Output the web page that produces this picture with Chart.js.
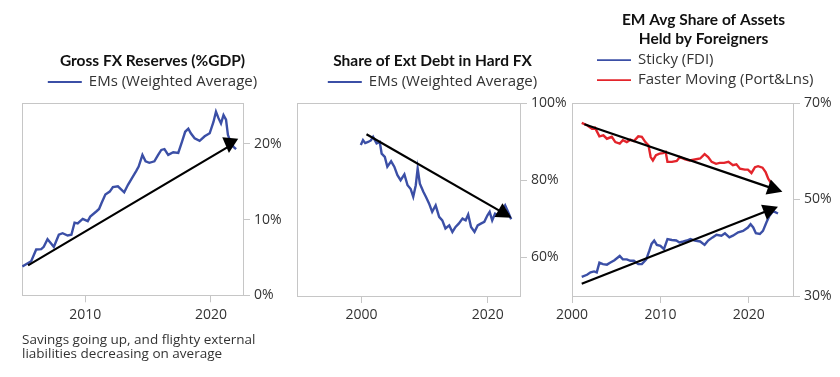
<!DOCTYPE html>
<html><head><meta charset="utf-8">
<script src="https://cdn.jsdelivr.net/npm/chart.js@4.4.1/dist/chart.umd.min.js"></script>
<style>
html,body{margin:0;padding:0;background:#fff;}
#wrap{position:relative;width:840px;height:377px;overflow:hidden;background:#fff;}
canvas{position:absolute;top:0;}
</style></head><body>
<div id="wrap">
<canvas id="c1" width="306" height="377" style="left:0px;width:306px;height:377px"></canvas>
<canvas id="c2" width="300" height="377" style="left:280px;width:300px;height:377px"></canvas>
<canvas id="c3" width="300" height="377" style="left:540px;width:300px;height:377px"></canvas>
</div>
<script>
// ---------- Panel 1: Gross FX Reserves (%GDP) ----------
const fxYears = [2005.0, 2005.7, 2006.1, 2006.5, 2006.7, 2007.0, 2007.3, 2007.5, 2007.9, 2008.2, 2008.6, 2008.9, 2009.15, 2009.4, 2009.8, 2010.2, 2010.4, 2010.9, 2011.1, 2011.3, 2011.6, 2011.95, 2012.2, 2012.6, 2013.1, 2013.4, 2013.8, 2014.05, 2014.25, 2014.55, 2014.8, 2015.1, 2015.5, 2015.8, 2016.05, 2016.3, 2016.6, 2017.0, 2017.4, 2017.7, 2017.95, 2018.2, 2018.4, 2018.7, 2019.1, 2019.5, 2019.9, 2020.2, 2020.4, 2020.6, 2020.8, 2021.0, 2021.2, 2021.35, 2021.55, 2021.8, 2022.0];
const fxValues = [3.8, 4.5, 6.05, 6.1, 6.4, 7.4, 6.8, 6.4, 8.0, 8.2, 7.9, 8.0, 9.6, 9.5, 10.1, 9.8, 10.4, 11.1, 11.4, 12.2, 13.3, 13.7, 14.3, 14.4, 13.6, 14.6, 15.7, 16.4, 17.0, 18.55, 17.7, 17.5, 17.7, 18.55, 19.2, 19.3, 18.55, 18.9, 18.8, 20.3, 21.6, 22.0, 21.4, 20.75, 20.4, 21.0, 21.4, 22.9, 24.25, 23.4, 22.7, 23.8, 23.2, 21.2, 20.3, 19.6, 19.3];
const fxXTicks = [2010, 2020];
const fxYTicks = [0, 10, 20];
const fxArrow = [2005.45, 3.95, 2021.36, 19.6, 2021.43, 18.8]; // from x,y / line end x,y / head tip x,y

// ---------- Panel 2: Share of Ext Debt in Hard FX ----------
const debtYears = [1999.9, 2000.25, 2000.6, 2001.05, 2001.5, 2001.85, 2002.4, 2002.9, 2003.2, 2003.7, 2004.1, 2004.7, 2005.2, 2005.7, 2006.2, 2006.8, 2007.3, 2007.8, 2008.2, 2008.6, 2008.9, 2009.25, 2009.8, 2010.2, 2010.7, 2011.2, 2011.75, 2012.3, 2012.8, 2013.3, 2013.9, 2014.4, 2014.9, 2015.4, 2016.0, 2016.5, 2016.9, 2017.35, 2017.9, 2018.4, 2018.9, 2019.45, 2019.95, 2020.3, 2020.7, 2021.15, 2021.7, 2022.2, 2022.75, 2023.2, 2023.7];
const debtValues = [89.1, 90.4, 89.6, 89.9, 90.3, 91.2, 89.5, 89.9, 86.9, 86.05, 83.5, 84.9, 83.5, 81.3, 80.0, 81.5, 78.7, 77.7, 75.7, 78.7, 83.0, 79.1, 77.0, 75.7, 74.0, 71.8, 73.5, 70.5, 69.6, 67.5, 68.3, 66.6, 67.9, 68.75, 70.05, 69.6, 71.1, 67.9, 66.6, 68.3, 68.75, 69.2, 70.9, 71.8, 69.6, 71.35, 70.9, 71.95, 73.5, 71.8, 69.9];
const debtXTicks = [2000, 2020];
const debtYTicks = [60, 80, 100];
const debtArrow = [2000.8, 91.9, 2023.75, 70.3]; // from x,y / head tip x,y

// ---------- Panel 3: EM Avg Share of Assets Held by Foreigners ----------
const stickyYears = [2001.1, 2001.7, 2002.1, 2002.5, 2002.8, 2003.1, 2003.5, 2003.95, 2004.3, 2004.8, 2005.4, 2005.75, 2006.2, 2006.6, 2007.0, 2007.5, 2007.9, 2008.4, 2008.75, 2009.0, 2009.3, 2009.6, 2010.0, 2010.4, 2010.8, 2011.3, 2011.8, 2012.15, 2012.6, 2013.0, 2013.4, 2013.9, 2014.5, 2015.0, 2015.4, 2015.9, 2016.35, 2016.9, 2017.3, 2017.8, 2018.2, 2018.8, 2019.35, 2019.9, 2020.2, 2020.5, 2020.8, 2021.25, 2021.6, 2022.0, 2022.3, 2022.75, 2023.3];
const stickyValues = [33.96, 34.4, 34.9, 35.1, 34.9, 36.9, 36.6, 36.5, 36.9, 37.4, 38.3, 37.6, 37.6, 37.3, 37.3, 36.6, 36.6, 37.6, 39.4, 40.8, 41.5, 40.6, 40.4, 39.7, 41.8, 41.6, 41.5, 41.1, 41.3, 41.5, 41.8, 41.5, 41.3, 40.6, 41.5, 42.15, 42.7, 42.5, 43.0, 42.15, 42.5, 43.2, 43.5, 44.2, 44.9, 44.2, 43.0, 42.85, 43.5, 45.3, 46.5, 47.6, 47.1];
const fastYears = [2001.1, 2001.7, 2002.25, 2002.6, 2003.1, 2003.55, 2003.95, 2004.5, 2004.9, 2005.4, 2005.75, 2006.2, 2006.6, 2007.0, 2007.5, 2007.9, 2008.3, 2008.65, 2008.9, 2009.15, 2009.5, 2009.9, 2010.3, 2010.6, 2010.8, 2011.3, 2011.85, 2012.2, 2012.8, 2013.3, 2013.9, 2014.5, 2015.0, 2015.4, 2015.8, 2016.3, 2016.7, 2017.2, 2017.7, 2018.2, 2018.6, 2019.0, 2019.55, 2019.9, 2020.3, 2020.7, 2021.05, 2021.55, 2021.9, 2022.2, 2022.55];
const fastValues = [65.9, 65.4, 64.7, 64.9, 63.1, 63.3, 62.6, 63.0, 61.9, 61.6, 62.3, 61.9, 62.4, 62.1, 63.1, 63.0, 61.9, 61.25, 58.8, 58.1, 59.2, 59.5, 59.6, 59.85, 57.8, 57.8, 58.0, 58.8, 58.3, 58.1, 58.3, 58.5, 59.4, 58.8, 57.8, 57.4, 57.6, 57.6, 57.8, 57.1, 57.3, 56.4, 56.2, 56.2, 55.5, 56.7, 56.9, 56.6, 55.7, 54.3, 53.3];
const assetXTicks = [2000, 2010, 2020];
const assetYTicks = [30, 50, 70];
const fastArrow = [2001.4, 65.6, 2023.8, 51.6];
const stickyArrow = [2001.1, 32.55, 2023.3, 48.5];

const caption = ['Savings going up, and flighty external', 'liabilities decreasing on average'];

// ---------- styling ----------
const FONT = "'Open Sans', Lato, 'DejaVu Sans', sans-serif";
const TITLE_FONT = "Lato, 'Open Sans', sans-serif";
const BLUE = '#3b4fa6';
const RED = '#e3242b';
const GRAY = '#c6c6c6';
const TEXT = '#333333';

function pts(xs, ys) { return xs.map((x, i) => ({ x: x, y: ys[i] })); }

const framePlugin = {
  id: 'frame',
  beforeDatasetsDraw(chart) {
    const a = chart.chartArea, ctx = chart.ctx;
    ctx.save();
    ctx.strokeStyle = GRAY; ctx.lineWidth = 1;
    ctx.strokeRect(Math.round(a.left) + 0.5, Math.round(a.top) + 0.5, Math.round(a.right - a.left), Math.round(a.bottom - a.top));
    ctx.restore();
  }
};

const arrowPlugin = {
  id: 'arrows',
  afterDatasetsDraw(chart, args, opts) {
    const xs = chart.scales.x, ys = chart.scales.y, ctx = chart.ctx;
    ctx.save();
    (opts.items || []).forEach(it => {
      const a = it.data;
      const x0 = xs.getPixelForValue(a[0]), y0 = ys.getPixelForValue(a[1]);
      let ex, ey, tx, ty;
      if (a.length === 6) {
        ex = xs.getPixelForValue(a[2]); ey = ys.getPixelForValue(a[3]);
        tx = xs.getPixelForValue(a[4]); ty = ys.getPixelForValue(a[5]);
      } else {
        tx = xs.getPixelForValue(a[2]); ty = ys.getPixelForValue(a[3]);
      }
      const ang = it.angle != null ? it.angle * Math.PI / 180 : Math.atan2(ty - y0, tx - x0);
      const L = opts.headLength, W = opts.headWidth / 2;
      const cx = Math.cos(ang), sy = Math.sin(ang);
      if (ex == null) { ex = tx - L * 0.7 * cx; ey = ty - L * 0.7 * sy; }
      ctx.strokeStyle = '#000'; ctx.lineWidth = 2.2; ctx.lineCap = 'butt';
      ctx.beginPath(); ctx.moveTo(x0, y0); ctx.lineTo(ex, ey); ctx.stroke();
      const bx = tx - L * cx, by = ty - L * sy;
      ctx.fillStyle = '#000';
      ctx.beginPath();
      ctx.moveTo(tx, ty);
      ctx.lineTo(bx - W * sy, by + W * cx);
      ctx.lineTo(bx + W * sy, by - W * cx);
      ctx.closePath(); ctx.fill();
    });
    ctx.restore();
  }
};

const legendPlugin = {
  id: 'lineLegend',
  afterDraw(chart, args, opts) {
    const ctx = chart.ctx, area = chart.chartArea;
    ctx.save();
    ctx.font = '15px ' + FONT;
    ctx.textBaseline = 'middle';
    chart.data.datasets.forEach((ds, i) => {
      const y = area.top + opts.rows[i];
      const tw = ctx.measureText(ds.label).width;
      let x;
      if (opts.align === 'center') {
        const tb = chart.titleBlock;
        const c = (tb.left + tb.right) / 2;
        x = c - (opts.lineLen + opts.gap + tw) / 2;
      } else {
        x = area.left + opts.offsetX;
      }
      ctx.strokeStyle = ds.borderColor; ctx.lineWidth = 1.8;
      ctx.beginPath(); ctx.moveTo(x, y); ctx.lineTo(x + opts.lineLen, y); ctx.stroke();
      ctx.fillStyle = TEXT; ctx.textAlign = 'left';
      ctx.fillText(ds.label, x + opts.lineLen + opts.gap, y);
    });
    ctx.restore();
  }
};

function makeChart(id, cfg) {
  const options = {
    responsive: false, animation: false, devicePixelRatio: 1,
    layout: { padding: cfg.padding },
    scales: {
      x: {
        type: 'linear', min: cfg.xMin, max: cfg.xMax,
        afterBuildTicks: s => { s.ticks = cfg.xTicks.map(v => ({ value: v })); },
        afterFit: s => { s.height = 30; },
        ticks: { callback: v => String(v), color: TEXT, font: { family: FONT, size: 14 }, padding: 4, maxRotation: 0, autoSkip: false },
        grid: { drawOnChartArea: false, drawTicks: true, tickLength: 7, color: GRAY },
        border: { display: true, color: GRAY }
      },
      y: {
        type: 'linear', position: 'right', min: cfg.yMin, max: cfg.yMax,
        afterBuildTicks: s => { s.ticks = cfg.yTicks.map(v => ({ value: v })); },
        afterFit: s => { s.width = cfg.yWidth; },
        ticks: { callback: v => v + '%', color: TEXT, font: { family: FONT, size: 14 }, padding: 4 },
        grid: { drawOnChartArea: false, drawTicks: true, tickLength: 7, color: GRAY },
        border: { display: true, color: GRAY }
      }
    },
    plugins: {
      legend: { display: false },
      tooltip: { enabled: false },
      title: {
        display: true, text: cfg.title, color: '#111',
        font: { family: TITLE_FONT, size: 15.5, weight: 'bold', lineHeight: cfg.titleLH },
        padding: cfg.titlePadding
      },
      subtitle: cfg.subtitle ? {
        display: true, position: 'bottom', align: 'start', text: cfg.subtitle, color: TEXT,
        font: { family: FONT, size: 13.5, lineHeight: 1.1 }, padding: { top: 7, bottom: 0 }
      } : { display: false },
      lineLegend: cfg.legend,
      arrows: { items: cfg.arrows, headLength: 15, headWidth: 16 }
    }
  };
  return new Chart(document.getElementById(id), {
    type: 'line',
    data: { datasets: cfg.datasets.map(d => ({ label: d.label, data: d.data, borderColor: d.color, backgroundColor: d.color, borderWidth: 2.4, pointRadius: 0, tension: 0, fill: false })) },
    options: options,
    plugins: [framePlugin, arrowPlugin, legendPlugin]
  });
}

makeChart('c1', {
  padding: { left: 22, right: 23, top: 0, bottom: 15 },
  xMin: 2004.97, xMax: 2022.55, xTicks: fxXTicks,
  yMin: 0, yMax: 25.4, yTicks: fxYTicks, yWidth: 40,
  title: 'Gross FX Reserves (%GDP)', titleLH: 1.2, titlePadding: { top: 52, bottom: 32.4 },
  subtitle: caption,
  legend: { align: 'center', rows: [-21], lineLen: 34, gap: 7 },
  datasets: [{ label: 'EMs (Weighted Average)', color: BLUE, data: pts(fxYears, fxValues) }],
  arrows: [{ data: fxArrow, angle: 95 }]
});

makeChart('c2', {
  padding: { left: 17, right: 12, top: 0, bottom: 51 },
  xMin: 1989.8, xMax: 2025.1, xTicks: debtXTicks,
  yMin: 50, yMax: 100, yTicks: debtYTicks, yWidth: 48,
  title: 'Share of Ext Debt in Hard FX', titleLH: 1.2, titlePadding: { top: 52, bottom: 32.4 },
  legend: { align: 'center', rows: [-21], lineLen: 34, gap: 7 },
  datasets: [{ label: 'EMs (Weighted Average)', color: BLUE, data: pts(debtYears, debtValues) }],
  arrows: [{ data: debtArrow }]
});

makeChart('c3', {
  padding: { left: 32, right: 5, top: 0, bottom: 51 },
  xMin: 2000, xMax: 2025, xTicks: assetXTicks,
  yMin: 30, yMax: 70, yTicks: assetYTicks, yWidth: 42,
  title: ['EM Avg Share of Assets', 'Held by Foreigners'], titleLH: 1.23, titlePadding: { top: 10.5, bottom: 54.4 },
  legend: { align: 'left', rows: [-43, -23], offsetX: 25, lineLen: 34, gap: 7 },
  datasets: [
    { label: 'Sticky (FDI)', color: BLUE, data: pts(stickyYears, stickyValues) },
    { label: 'Faster Moving (Port&Lns)', color: RED, data: pts(fastYears, fastValues) }
  ],
  arrows: [{ data: fastArrow }, { data: stickyArrow }]
});
</script>
</body></html>
